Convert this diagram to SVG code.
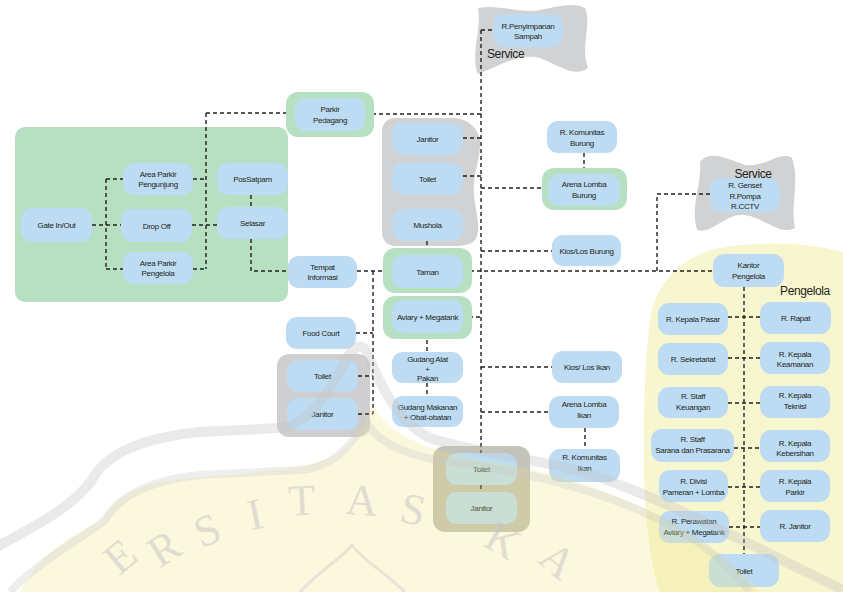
<svg xmlns="http://www.w3.org/2000/svg" width="843" height="592" viewBox="0 0 843 592">
<defs>
<style>
.b{fill:#bddcf3}
.g{fill:#b7dfc2}
.gy{fill:#d1d2d4}
.t{font-family:"Liberation Sans",Arial,sans-serif;font-size:8px;fill:#231f20;text-anchor:middle;letter-spacing:-0.3px}
.lbl{font-family:"Liberation Sans",Arial,sans-serif;font-size:12px;fill:#231f20;letter-spacing:-0.4px}
.c path{stroke:#231f20;stroke-width:1.4;stroke-dasharray:4 3;fill:none}
.wl{font-family:"Liberation Serif","Times New Roman",serif;font-size:44px;fill:#c4c4c4;text-anchor:middle}
</style>
</defs>
<rect width="843" height="592" fill="#ffffff"/>

<!-- zone backgrounds -->
<g id="zone-entrance"><rect x="15" y="127" width="273" height="175" rx="10" class="g"/></g>
<g id="zone-service-top"><path class="gy" d="M478,8 C500,4 520,14 540,10 C560,6 575,2 585,8 C592,25 580,45 588,68 C575,78 560,66 540,58 C520,52 495,68 478,74 C470,55 482,30 478,8 Z"/>
<text class="lbl" x="487" y="58">Service</text></g>
<g id="zone-service-right"><path class="gy" d="M700,162 C710,150 725,158 745,165 C765,168 780,150 792,158 C800,180 790,205 795,228 C780,236 765,218 745,215 C725,213 712,235 697,230 C690,205 702,185 700,162 Z"/>
<text class="lbl" x="753" y="178" text-anchor="middle">Service</text></g>
<g id="zone-pengelola"><path fill="#f8f6cf" d="M650,320 C655,285 680,258 715,249 C760,240 810,243 843,252 L843,592 L660,592 C648,560 643,500 644,440 C644,390 646,350 650,320 Z"/>
<text class="lbl" x="805" y="295" text-anchor="middle">Pengelola</text></g>
<g id="zone-facilities"><path class="gy" d="M395,118 L455,118 C468,119 478,128 480,140 C481,160 472,175 474,195 C476,215 482,230 475,240 C470,246 460,246 450,246 L395,246 C387,246 382,240 382,232 L382,132 C382,124 387,118 395,118 Z"/></g>
<g id="zone-wc-left"><rect x="277" y="354" width="93" height="83" rx="12" fill="#cfcfd1"/></g>
<g id="zone-wc-bottom"><rect x="433" y="446" width="97" height="86" rx="12" fill="#c4c3b8"/></g>

<!-- connectors -->
<g class="c" id="connectors">
<path d="M92,225 H121"/>
<path d="M106,179 V269"/>
<path d="M106,179 H123"/>
<path d="M106,269 H123"/>
<path d="M193,179 H206"/>
<path d="M193,269 H206"/>
<path d="M206,113 V269"/>
<path d="M206,113 H295"/>
<path d="M192,225 H217"/>
<path d="M251,195 V207"/>
<path d="M251,239 V271 H288"/>
<path d="M365,114 H481"/>
<path d="M481,30 V453"/>
<path d="M481,30 H493"/>
<path d="M463,138 H481"/>
<path d="M463,176 H481"/>
<path d="M481,188 H542"/>
<path d="M584,153 V174"/>
<path d="M481,251 H552"/>
<path d="M357,271 H392"/>
<path d="M373,271 V414"/>
<path d="M356,333 H373"/>
<path d="M358,376 H373"/>
<path d="M358,414 H373"/>
<path d="M427,241 V255"/>
<path d="M463,271 H713"/>
<path d="M710,194 H657 V271"/>
<path d="M462,317 H481"/>
<path d="M427,333 V352"/>
<path d="M427,383 V396"/>
<path d="M481,367 H552"/>
<path d="M481,412 H549"/>
<path d="M585,428 V449"/>
<path d="M481,485 V492"/>
<path d="M744,287 V554"/>
<path d="M728,317 H760"/>
<path d="M728,358 H760"/>
<path d="M728,403 H760"/>
<path d="M734,448 H760"/>
<path d="M728,487 H760"/>
<path d="M729,527 H760"/>
</g>

<!-- nodes -->
<g id="gate"><rect class="b" x="21" y="208" width="71" height="34" rx="11"/><text class="t" x="56.5" y="228">Gate In/Out</text></g>
<g id="parkir-pengunjung"><rect class="b" x="123" y="163" width="70" height="32" rx="11"/><text class="t" x="158" y="176.5">Area Parkir</text><text class="t" x="158" y="187">Pengunjung</text></g>
<g id="drop-off"><rect class="b" x="121" y="209" width="71" height="33" rx="11"/><text class="t" x="156.5" y="228.5">Drop Off</text></g>
<g id="parkir-pengelola"><rect class="b" x="123" y="252" width="70" height="32" rx="11"/><text class="t" x="158" y="265.5">Area Parkir</text><text class="t" x="158" y="276">Pengelola</text></g>
<g id="pos-satpam"><rect class="b" x="217" y="163" width="71" height="32" rx="11"/><text class="t" x="252.5" y="182">PosSatpam</text></g>
<g id="selasar"><rect class="b" x="217" y="207" width="71" height="32" rx="11"/><text class="t" x="252.5" y="226">Selasar</text></g>
<g id="parkir-pedagang"><rect class="g" x="286" y="92" width="88" height="45" rx="12"/><rect class="b" x="295" y="98" width="70" height="33" rx="11"/><text class="t" x="330" y="112">Parkir</text><text class="t" x="330" y="122.5">Pedagang</text></g>
<g id="penyimpanan-sampah"><rect class="b" x="493" y="14" width="70" height="33" rx="11"/><text class="t" x="528" y="29">R.Penyimpanan</text><text class="t" x="528" y="38.5">Sampah</text></g>
<g id="janitor-1"><rect class="b" x="392" y="123" width="71" height="32" rx="11"/><text class="t" x="427.5" y="141.5">Janitor</text></g>
<g id="toilet-1"><rect class="b" x="392" y="163" width="71" height="32" rx="11"/><text class="t" x="427.5" y="181.5">Toilet</text></g>
<g id="mushola"><rect class="b" x="392" y="209" width="71" height="32" rx="11"/><text class="t" x="427.5" y="228">Mushola</text></g>
<g id="taman"><rect class="g" x="383" y="248" width="89" height="45" rx="12"/><rect class="b" x="392" y="255" width="71" height="33" rx="11"/><text class="t" x="427.5" y="274.5">Taman</text></g>
<g id="tempat-informasi"><rect class="b" x="288" y="256" width="69" height="32" rx="11"/><text class="t" x="322.5" y="269.5">Tempat</text><text class="t" x="322.5" y="280">Informasi</text></g>
<g id="komunitas-burung"><rect class="b" x="547" y="121" width="70" height="32" rx="11"/><text class="t" x="582" y="135">R. Komunitas</text><text class="t" x="582" y="146">Burung</text></g>
<g id="arena-burung"><rect class="g" x="542" y="168" width="85" height="42" rx="12"/><rect class="b" x="548" y="174" width="72" height="32" rx="11"/><text class="t" x="584" y="187">Arena Lomba</text><text class="t" x="584" y="198">Burung</text></g>
<g id="kios-burung"><rect class="b" x="552" y="235" width="69" height="31" rx="11"/><text class="t" x="586.5" y="253.5">Kios/Los Burung</text></g>
<g id="aviary"><rect class="g" x="383" y="296" width="89" height="43" rx="12"/><rect class="b" x="392" y="300" width="71" height="33" rx="11"/><text class="t" x="427.5" y="320">Aviary + Megatank</text></g>
<g id="food-court"><rect class="b" x="286" y="317" width="70" height="32" rx="11"/><text class="t" x="321" y="336">Food Court</text></g>
<g id="toilet-l"><rect class="b" x="287" y="360" width="71" height="32" rx="11"/><text class="t" x="322.5" y="379">Toilet</text></g>
<g id="janitor-l"><rect class="b" x="287" y="398" width="71" height="32" rx="11"/><text class="t" x="322.5" y="417">Janitor</text></g>
<g id="gudang-alat"><rect class="b" x="392" y="352" width="71" height="31" rx="11"/><text class="t" x="427.5" y="361.5">Gudang Alat</text><text class="t" x="427.5" y="371.5">+</text><text class="t" x="427.5" y="381">Pakan</text></g>
<g id="gudang-makanan"><rect class="b" x="392" y="396" width="71" height="31" rx="11"/><text class="t" x="427.5" y="410">Gudang Makanan</text><text class="t" x="427.5" y="420">+ Obat-obatan</text></g>
<g id="kios-ikan"><rect class="b" x="552" y="351" width="70" height="32" rx="11"/><text class="t" x="587" y="370">Kios/ Los Ikan</text></g>
<g id="arena-ikan"><rect class="b" x="549" y="396" width="70" height="32" rx="11"/><text class="t" x="584" y="407">Arena Lomba</text><text class="t" x="584" y="417.5">Ikan</text></g>
<g id="komunitas-ikan"><rect class="b" x="549" y="449" width="71" height="33" rx="11"/><text class="t" x="584.5" y="460">R. Komunitas</text><text class="t" x="584.5" y="470.5">Ikan</text></g>
<g id="toilet-b"><rect class="b" x="446" y="453" width="71" height="32" rx="11"/><text class="t" x="481.5" y="472">Toilet</text></g>
<g id="janitor-b"><rect class="b" x="446" y="492" width="71" height="32" rx="11"/><text class="t" x="481.5" y="511">Janitor</text></g>
<g id="genset"><rect class="b" x="710" y="178" width="70" height="34" rx="11"/><text class="t" x="745" y="188">R. Genset</text><text class="t" x="745" y="198.5">R.Pompa</text><text class="t" x="745" y="209">R.CCTV</text></g>
<g id="kantor"><rect class="b" x="713" y="254" width="71" height="33" rx="11"/><text class="t" x="748.5" y="268">Kantor</text><text class="t" x="748.5" y="279">Pengelola</text></g>
<g id="kepala-pasar"><rect class="b" x="658" y="303" width="70" height="32" rx="11"/><text class="t" x="693" y="322">R. Kepala Pasar</text></g>
<g id="rapat"><rect class="b" x="760" y="302" width="71" height="32" rx="11"/><text class="t" x="795.5" y="321">R. Rapat</text></g>
<g id="sekretariat"><rect class="b" x="658" y="343" width="70" height="32" rx="11"/><text class="t" x="693" y="362">R. Sekretariat</text></g>
<g id="kepala-keamanan"><rect class="b" x="760" y="342" width="70" height="32" rx="11"/><text class="t" x="795" y="356.5">R. Kepala</text><text class="t" x="795" y="367">Keamanan</text></g>
<g id="staff-keuangan"><rect class="b" x="658" y="387" width="70" height="31" rx="11"/><text class="t" x="693" y="398.5">R. Staff</text><text class="t" x="693" y="409.5">Keuangan</text></g>
<g id="kepala-teknisi"><rect class="b" x="760" y="386" width="70" height="32" rx="11"/><text class="t" x="795" y="398">R. Kepala</text><text class="t" x="795" y="408.5">Teknisi</text></g>
<g id="staff-sarana"><rect class="b" x="651" y="429" width="83" height="33" rx="11"/><text class="t" x="692.5" y="442">R. Staff</text><text class="t" x="692.5" y="453">Sarana dan Prasarana</text></g>
<g id="kepala-kebersihan"><rect class="b" x="760" y="430" width="70" height="32" rx="11"/><text class="t" x="795" y="445.5">R. Kepala</text><text class="t" x="795" y="456">Kebersihan</text></g>
<g id="divisi-pameran"><rect class="b" x="659" y="470" width="69" height="32" rx="11"/><text class="t" x="693.5" y="484">R. Divisi</text><text class="t" x="693.5" y="495">Pameran + Lomba</text></g>
<g id="kepala-parkir"><rect class="b" x="760" y="470" width="70" height="32" rx="11"/><text class="t" x="795" y="484">R. Kepala</text><text class="t" x="795" y="495">Parkir</text></g>
<g id="perawatan"><rect class="b" x="659" y="511" width="70" height="32" rx="11"/><text class="t" x="694" y="524">R. Perawatan</text><text class="t" x="694" y="534.5">Aviary + Megatank</text></g>
<g id="r-janitor"><rect class="b" x="760" y="510" width="70" height="32" rx="11"/><text class="t" x="795" y="529">R. Janitor</text></g>
<g id="toilet-p"><rect class="b" x="709" y="554" width="70" height="33" rx="11"/><text class="t" x="744" y="573.5">Toilet</text></g>

<!-- faint watermark -->
<g id="watermark" pointer-events="none">
<path fill="#efe27a" opacity="0.25" d="M20,592 C40,555 70,535 100,522 C115,495 140,482 190,478 C260,472 320,470 345,448 C358,436 366,420 372,405 C385,430 420,450 480,460 C560,472 630,495 690,535 C720,555 745,575 760,592 Z"/>
<path fill="none" stroke="#c4c4c4" stroke-width="10" opacity="0.35" d="M-5,548 C30,528 70,510 92,480 C105,455 140,438 200,432 L280,428 C310,425 330,390 345,362 C352,348 360,342 366,350 C378,380 395,420 430,438 C480,455 560,460 620,485 C690,512 760,550 843,590"/>
<path fill="none" stroke="#c8c8c8" stroke-width="8" opacity="0.3" d="M10,592 C40,560 80,540 105,520 C120,495 150,480 200,475 L300,470 C330,468 350,450 365,420 C375,440 400,455 450,462 C530,472 600,490 660,520 C700,540 730,565 750,592"/>
<path fill="none" stroke="#c8c8c8" stroke-width="3" opacity="0.4" d="M300,592 C320,570 340,560 352,545 C362,560 385,572 405,592"/>
<g opacity="0.5">
<text class="wl" transform="translate(120,556) rotate(-40)" y="15">E</text>
<text class="wl" transform="translate(164,548) rotate(-32)" y="15">R</text>
<text class="wl" transform="translate(207,530) rotate(-22)" y="15">S</text>
<text class="wl" transform="translate(255,514) rotate(-12)" y="15">I</text>
<text class="wl" transform="translate(302,500) rotate(-3)" y="15">T</text>
<text class="wl" transform="translate(362,500) rotate(4)" y="15">A</text>
<text class="wl" transform="translate(413,509) rotate(12)" y="15">S</text>
<text class="wl" transform="translate(503,540) rotate(30)" y="15">K</text>
<text class="wl" transform="translate(558,560) rotate(40)" y="15">A</text>
</g>
</g>
</svg>
